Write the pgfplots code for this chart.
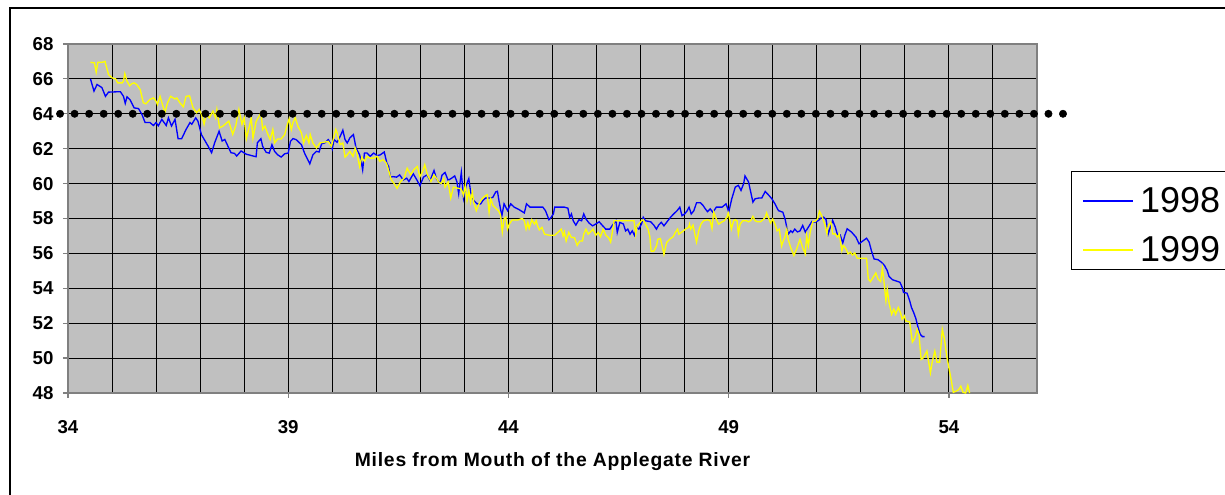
\documentclass[border=0pt]{standalone}
\usepackage{pgfplots}
\pgfplotsset{compat=1.18}
\usepackage{fontspec}
\setmainfont{Liberation Sans}
\newfontfamily\spacedbold[LetterSpace=4]{Liberation Sans Bold}
\definecolor{plotbg}{RGB}{192,192,192}
\definecolor{plotframe}{RGB}{128,128,128}
\definecolor{s98}{RGB}{0,0,255}
\definecolor{s99}{RGB}{255,255,0}
\begin{document}
\begin{tikzpicture}
\path[use as bounding box] (0pt,0pt) rectangle (918.75pt,371.25pt);
% chart frame
\draw[line width=1pt] (7.5pt,-5pt) -- (7.5pt,365.25pt) -- (930pt,365.25pt);
\begin{axis}[
  at={(51pt,76.5pt)}, anchor=south west,
  scale only axis, width=726.75pt, height=261.75pt,
  xmin=34, xmax=56, ymin=48, ymax=68,
  xtick={34,39,44,49,54},
  minor xtick={35,36,37,38,40,41,42,43,45,46,47,48,50,51,52,53,55},
  ytick={48,50,...,68},
  grid=both,
  major grid style={black, line width=0.75pt},
  minor grid style={black, line width=0.75pt},
  axis line style={plotframe, line width=0.9pt},
  axis background/.style={fill=plotbg},
  tick align=outside, xtick pos=left, ytick pos=left,
  major tick length=3.75pt, minor tick length=0pt,
  tick style={plotframe, line width=0.9pt},
  /pgf/number format/assume math mode=true,
  ticklabel style={font=\fontsize{14}{16}\selectfont\bfseries},
  xticklabel style={anchor=base, yshift=-27pt},
  yticklabel style={anchor=east, inner sep=0pt, xshift=-7pt},
  xlabel={Miles from Mouth of the Applegate River},
  xlabel style={font=\fontsize{14.5}{17}\selectfont\spacedbold, at={(axis description cs:0.5,-0.212)}, anchor=base},
  clip=false,
  legend style={at={(1.0351,0.636)}, anchor=north west, draw=black, line width=0.75pt, fill=white,
    font=\fontsize{27}{30}\selectfont, inner xsep=8pt, inner ysep=5pt, row sep=9.75pt,
    column sep=4pt, nodes={inner sep=1pt, text height=25pt, text depth=0pt}},
  legend cell align=left,
  legend image code/.code={\draw[#1] (0pt,-3.5pt) -- (37.5pt,-3.5pt);},
]
\addplot[s98, line width=1pt] coordinates {
(34.51,66.0)(34.59,65.3)(34.66,65.68)(34.77,65.5)(34.85,65.0)(34.92,65.24)(35.11,65.26)(35.19,65.26)
(35.26,65.0)(35.30,64.6)(35.34,64.97)(35.41,64.8)(35.50,64.34)(35.60,64.3)(35.68,63.96)(35.75,63.5)
(35.86,63.5)(35.94,63.33)(36.00,63.5)(36.05,63.31)(36.13,63.68)(36.23,63.33)(36.28,63.77)(36.35,63.3)
(36.43,63.68)(36.50,62.57)(36.58,62.57)(36.68,63.1)(36.77,63.5)(36.81,63.4)(36.90,63.77)(36.95,63.58)
(37.03,62.8)(37.10,62.5)(37.18,62.15)(37.26,61.77)(37.33,62.34)(37.43,63.0)(37.50,62.44)(37.56,62.53)
(37.63,62.15)(37.70,61.77)(37.78,61.73)(37.83,61.58)(37.93,61.87)(38.05,61.68)(38.27,61.54)(38.30,62.34)
(38.38,62.57)(38.42,62.13)(38.50,61.79)(38.57,61.75)(38.63,62.23)(38.69,61.85)(38.76,61.65)(38.84,61.52)
(38.92,61.71)(39.00,61.75)(39.05,62.42)(39.11,62.58)(39.18,62.52)(39.30,62.23)(39.37,61.75)(39.49,61.13)
(39.56,61.65)(39.64,61.85)(39.70,61.81)(39.76,62.29)(39.83,62.33)(39.91,62.52)(39.96,62.29)(40.00,61.98)
(40.04,62.52)(40.11,62.37)(40.18,62.71)(40.24,63.06)(40.29,62.52)(40.34,62.33)(40.40,62.62)(40.48,62.81)
(40.54,62.04)(40.62,61.65)(40.65,61.37)(40.69,60.79)(40.73,61.75)(40.79,61.75)(40.86,61.56)(40.94,61.75)
(41.02,61.6)(41.09,61.65)(41.18,61.81)(41.24,61.17)(41.28,60.98)(41.32,60.37)(41.38,60.4)(41.46,60.37)
(41.53,60.5)(41.61,60.21)(41.69,60.31)(41.74,60.12)(41.84,60.56)(41.92,60.21)(41.99,59.88)(42.07,60.37)
(42.15,60.5)(42.22,60.17)(42.31,60.75)(42.37,60.25)(42.45,60.02)(42.49,60.48)(42.56,60.64)(42.63,60.19)
(42.71,60.31)(42.78,60.44)(42.83,60.1)(42.87,59.42)(42.93,60.64)(42.98,59.17)(43.04,59.9)(43.10,60.29)
(43.14,59.52)(43.21,59.03)(43.29,58.84)(43.37,58.84)(43.42,59.03)(43.48,59.17)(43.60,59.17)(43.65,59.23)
(43.71,59.52)(43.75,59.56)(43.79,58.94)(43.85,58.16)(43.90,58.84)(43.98,58.45)(44.05,58.84)(44.13,58.65)
(44.24,58.51)(44.36,58.32)(44.41,58.84)(44.49,58.65)(44.59,58.65)(44.70,58.65)(44.78,58.65)(44.84,58.45)
(44.92,57.93)(44.97,58.07)(45.02,58.26)(45.05,58.65)(45.16,58.65)(45.27,58.65)(45.35,58.59)(45.39,58.07)
(45.43,58.26)(45.47,57.87)(45.53,57.62)(45.60,57.93)(45.66,57.87)(45.71,58.26)(45.76,57.97)(45.83,57.74)
(45.91,57.58)(45.98,57.68)(46.06,57.81)(46.14,57.58)(46.21,57.39)(46.30,57.39)(46.38,57.68)(46.44,57.87)
(46.47,57.2)(46.53,57.78)(46.61,57.68)(46.66,57.29)(46.71,57.39)(46.76,57.1)(46.81,57.29)(46.86,57.04)
(46.91,57.49)(46.96,57.39)(47.02,57.68)(47.06,58.07)(47.11,57.87)(47.23,57.81)(47.30,57.62)(47.36,57.39)
(47.41,57.62)(47.47,57.78)(47.53,57.58)(47.60,57.81)(47.68,58.07)(47.75,58.26)(47.83,58.45)(47.89,58.65)
(47.94,58.16)(48.00,58.26)(48.06,58.45)(48.10,58.65)(48.15,58.26)(48.21,58.45)(48.27,58.9)(48.36,58.9)
(48.42,58.74)(48.47,58.55)(48.52,58.39)(48.58,58.55)(48.64,58.36)(48.72,58.65)(48.85,58.65)(48.94,58.84)
(48.98,58.55)(49.00,58.36)(49.07,59.13)(49.15,59.8)(49.22,59.9)(49.28,59.61)(49.34,60.0)(49.37,60.44)
(49.45,60.1)(49.50,59.52)(49.55,58.94)(49.60,59.13)(49.68,59.17)(49.75,59.17)(49.83,59.55)(49.90,59.36)
(49.98,59.13)(50.05,58.84)(50.13,58.45)(50.23,58.36)(50.28,57.97)(50.32,57.49)(50.35,57.1)(50.41,57.29)
(50.45,57.2)(50.50,57.39)(50.56,57.23)(50.62,57.29)(50.68,57.6)(50.74,57.22)(50.81,57.51)(50.89,57.83)
(50.96,57.79)(51.04,57.89)(51.09,58.02)(51.15,58.08)(51.21,57.95)(51.26,57.12)(51.32,57.6)(51.36,57.89)
(51.42,57.51)(51.47,57.06)(51.53,57.06)(51.59,56.6)(51.64,57.06)(51.69,57.41)(51.79,57.22)(51.89,56.93)
(51.96,56.55)(52.06,56.74)(52.13,56.87)(52.19,56.64)(52.24,56.16)(52.30,55.68)(52.39,55.64)(52.47,55.49)
(52.54,55.3)(52.60,55.01)(52.64,54.68)(52.72,54.49)(52.85,54.38)(52.89,54.34)(52.94,54.05)(52.97,53.76)
(53.05,53.72)(53.11,53.28)(53.15,52.9)(53.20,52.61)(53.25,52.26)(53.30,51.75)(53.35,51.36)(53.40,51.23)
(53.45,51.23)
};
\addlegendentry{1998}
\addplot[s99, line width=1pt] coordinates {
(34.51,66.95)(34.60,66.92)(34.64,66.38)(34.68,66.95)(34.77,66.95)(34.84,67.0)(34.92,66.25)(35.00,66.06)
(35.08,66.0)(35.13,65.77)(35.23,65.77)(35.26,65.87)(35.29,66.3)(35.34,65.87)(35.40,65.6)(35.45,65.73)
(35.50,65.77)(35.56,65.68)(35.64,65.39)(35.71,64.63)(35.77,64.57)(35.86,64.82)(35.94,64.91)(36.00,64.72)
(36.03,64.53)(36.09,65.0)(36.20,64.06)(36.26,64.63)(36.33,65.0)(36.43,64.85)(36.47,64.91)(36.54,64.63)
(36.62,64.4)(36.68,65.0)(36.76,65.03)(36.84,64.34)(36.92,64.06)(36.98,64.25)(37.03,63.96)(37.09,63.4)
(37.14,63.96)(37.21,63.77)(37.29,64.15)(37.35,63.77)(37.38,64.25)(37.44,63.2)(37.52,63.3)(37.59,63.45)
(37.65,63.58)(37.74,62.82)(37.81,63.33)(37.88,64.25)(37.95,63.4)(38.00,63.77)(38.05,62.57)(38.11,63.2)
(38.16,63.77)(38.20,62.6)(38.27,63.55)(38.38,64.06)(38.42,63.1)(38.47,63.29)(38.53,62.87)(38.59,62.52)
(38.65,63.1)(38.69,62.33)(38.76,62.56)(38.84,62.56)(38.92,62.81)(38.97,63.29)(39.02,63.71)(39.07,63.1)
(39.11,63.52)(39.16,63.77)(39.22,63.29)(39.30,62.9)(39.35,62.33)(39.41,62.75)(39.47,62.33)(39.50,62.81)
(39.56,62.33)(39.64,62.04)(39.72,62.33)(39.81,62.37)(39.91,62.42)(39.98,62.13)(40.04,62.71)(40.08,63.1)
(40.11,62.9)(40.18,62.23)(40.24,62.33)(40.29,61.52)(40.34,61.65)(40.40,61.85)(40.47,61.56)(40.52,62.04)
(40.56,61.75)(40.62,60.98)(40.67,61.52)(40.73,61.27)(40.79,61.56)(40.86,61.46)(40.94,61.46)(41.02,61.56)
(41.08,61.27)(41.15,61.37)(41.23,61.17)(41.28,60.75)(41.34,60.21)(41.40,60.02)(41.47,59.73)(41.55,60.12)
(41.63,60.31)(41.70,60.88)(41.78,60.5)(41.85,60.79)(41.93,60.98)(41.99,60.4)(42.05,60.69)(42.10,61.08)
(42.16,60.5)(42.24,60.12)(42.31,60.5)(42.39,60.21)(42.41,60.1)(42.47,60.0)(42.53,60.29)(42.56,59.8)
(42.63,60.1)(42.69,59.17)(42.75,59.8)(42.83,59.75)(42.90,59.71)(42.94,59.61)(42.98,59.32)(43.02,59.9)
(43.06,59.03)(43.10,59.61)(43.14,58.94)(43.18,59.52)(43.21,58.94)(43.27,58.45)(43.33,58.84)(43.40,59.13)
(43.48,59.32)(43.52,59.36)(43.56,58.36)(43.60,59.13)(43.65,58.74)(43.71,58.59)(43.77,58.45)(43.82,58.2)
(43.86,57.23)(43.90,57.97)(43.94,58.07)(43.98,57.39)(44.02,57.68)(44.08,57.91)(44.21,57.91)(44.31,58.0)
(44.36,57.87)(44.40,57.39)(44.44,57.78)(44.47,57.43)(44.53,57.93)(44.59,57.68)(44.63,57.87)(44.66,57.58)
(44.70,57.35)(44.76,57.49)(44.82,57.1)(44.93,57.04)(45.05,57.04)(45.12,57.2)(45.20,57.39)(45.24,57.0)
(45.27,57.23)(45.31,56.71)(45.37,57.2)(45.43,56.91)(45.50,56.91)(45.56,56.46)(45.62,56.71)(45.68,56.71)
(45.71,57.1)(45.76,57.39)(45.81,57.1)(45.86,57.23)(45.92,57.39)(45.98,57.04)(46.04,57.2)(46.09,56.96)
(46.15,57.39)(46.21,57.04)(46.27,56.91)(46.32,56.65)(46.37,57.39)(46.40,57.87)(46.50,57.87)(46.61,57.87)
(46.70,57.87)(46.85,57.87)(46.89,57.1)(46.92,57.58)(46.96,57.68)(47.02,57.87)(47.06,57.93)(47.11,57.68)
(47.17,57.39)(47.21,56.96)(47.24,56.13)(47.30,56.13)(47.36,56.42)(47.39,56.81)(47.45,56.85)(47.49,56.42)
(47.53,55.94)(47.59,56.62)(47.66,56.81)(47.74,56.96)(47.79,57.2)(47.84,57.39)(47.87,57.1)(47.94,57.23)
(48.02,57.39)(48.09,57.49)(48.11,57.68)(48.14,57.39)(48.19,57.62)(48.27,56.65)(48.32,57.29)(48.37,57.68)
(48.43,57.87)(48.52,57.93)(48.58,57.87)(48.62,57.43)(48.66,58.36)(48.72,57.97)(48.77,57.68)(48.81,57.74)
(48.85,57.81)(48.90,57.87)(48.96,58.07)(48.99,58.32)(49.03,57.87)(49.06,57.39)(49.11,57.87)(49.15,57.93)
(49.19,57.87)(49.22,57.1)(49.26,57.68)(49.32,57.87)(49.40,57.87)(49.45,57.81)(49.50,57.87)(49.55,58.12)
(49.60,57.87)(49.66,57.81)(49.72,57.81)(49.78,57.93)(49.83,58.07)(49.86,58.32)(49.90,58.07)(49.95,57.74)
(50.00,57.97)(50.05,57.68)(50.10,57.29)(50.15,57.39)(50.20,56.42)(50.24,56.71)(50.28,56.96)(50.32,57.39)
(50.35,56.81)(50.41,56.32)(50.48,55.88)(50.54,56.23)(50.62,56.81)(50.68,56.32)(50.74,55.97)(50.77,57.02)
(50.81,56.45)(50.85,57.22)(50.91,57.83)(50.96,57.83)(51.02,57.98)(51.06,58.41)(51.09,58.27)(51.14,57.98)
(51.19,57.6)(51.23,57.12)(51.26,57.6)(51.32,57.79)(51.36,57.12)(51.42,57.12)(51.47,56.93)(51.51,57.12)
(51.57,56.16)(51.60,56.45)(51.64,56.35)(51.68,56.16)(51.71,55.97)(51.76,56.07)(51.81,55.91)(51.86,56.03)
(51.92,55.72)(52.02,55.72)(52.13,55.72)(52.17,54.53)(52.22,54.38)(52.28,54.63)(52.34,54.88)(52.39,54.53)
(52.45,54.38)(52.49,55.14)(52.52,54.53)(52.57,53.28)(52.60,53.95)(52.64,53.18)(52.70,52.51)(52.75,52.8)
(52.79,52.51)(52.85,52.9)(52.90,52.61)(52.94,52.23)(52.99,52.42)(53.02,52.13)(53.11,52.07)(53.17,50.92)
(53.22,51.11)(53.28,51.65)(53.32,51.36)(53.37,49.92)(53.42,50.02)(53.50,50.4)(53.58,49.16)(53.62,49.77)
(53.68,50.4)(53.73,49.77)(53.79,49.77)(53.85,51.65)(53.90,51.07)(53.95,50.12)(54.00,49.44)(54.05,48.77)
(54.10,48.04)(54.16,48.1)(54.22,48.19)(54.27,48.39)(54.32,48.04)(54.38,48.0)(54.43,48.43)(54.47,48.0)
};
\addlegendentry{1999}
% 64 degree reference line drawn as a row of dots
\addplot[only marks, mark=*, mark size=2.75pt, black, forget plot] coordinates {
(33.82,64)(34.15,64)(34.48,64)(34.81,64)(35.14,64)(35.47,64)(35.80,64)(36.13,64)(36.46,64)(36.79,64)
(37.12,64)(37.45,64)(37.78,64)(38.11,64)(38.44,64)(38.77,64)(39.10,64)(39.43,64)(39.76,64)(40.09,64)
(40.42,64)(40.75,64)(41.08,64)(41.41,64)(41.74,64)(42.07,64)(42.40,64)(42.73,64)(43.06,64)(43.39,64)
(43.72,64)(44.05,64)(44.38,64)(44.71,64)(45.04,64)(45.37,64)(45.70,64)(46.03,64)(46.36,64)(46.69,64)
(47.02,64)(47.35,64)(47.68,64)(48.01,64)(48.34,64)(48.67,64)(49.00,64)(49.33,64)(49.66,64)(49.99,64)
(50.32,64)(50.65,64)(50.98,64)(51.31,64)(51.64,64)(51.97,64)(52.30,64)(52.63,64)(52.96,64)(53.29,64)
(53.62,64)(53.95,64)(54.28,64)(54.61,64)(54.94,64)(55.27,64)(55.60,64)(55.93,64)(56.26,64)(56.59,64)
};
\end{axis}
\end{tikzpicture}
\end{document}
